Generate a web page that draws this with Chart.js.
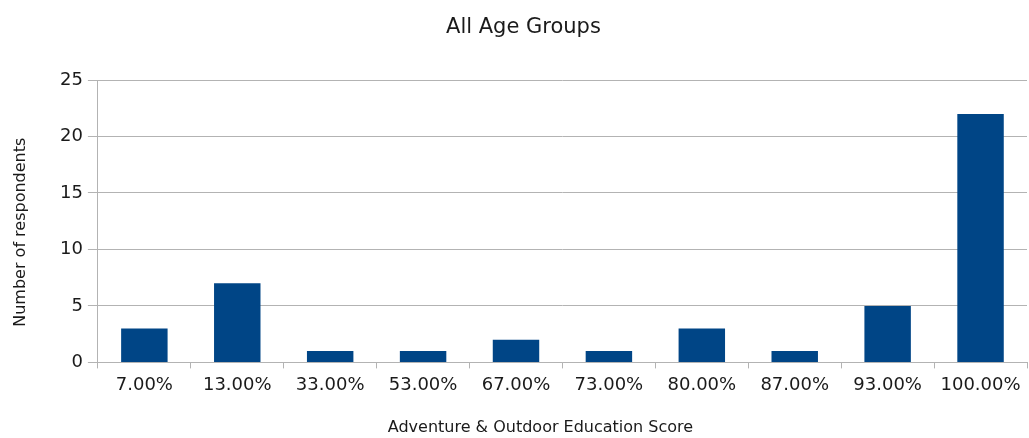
<!DOCTYPE html>
<html>
<head>
<meta charset="utf-8">
<script src="https://cdn.jsdelivr.net/npm/chart.js@4/dist/chart.umd.min.js"></script>
<style>
    html, body { margin: 0; padding: 0; background: #fff; }
    #wrap { width: 1029px; height: 438px; }
</style>
</head>
<body>
<div id="wrap"><canvas id="scoreChart"></canvas></div>
<script>
// Respondents per score bucket
const scores = ['7.00%', '13.00%', '33.00%', '53.00%', '67.00%', '73.00%', '80.00%', '87.00%', '93.00%', '100.00%'];
const respondents = [3, 7, 1, 1, 2, 1, 3, 1, 5, 22];
const yTicks = [0, 5, 10, 15, 20, 25];

const chartTitle = 'All Age Groups';
const xTitle = 'Adventure & Outdoor Education Score';
const yTitle = 'Number of respondents';

const font = 'DejaVu Sans, Verdana, sans-serif';
const textColor = '#1a1a1a';
const lineColor = '#b3b3b3';

// Chart and axis titles sit a little off the plot centre, so they are
// drawn here into the space kept free by the layout padding
const titles = {
    id: 'titles',
    afterDraw(chart) {
        const { ctx, chartArea } = chart;
        const midX = (chartArea.left + chartArea.right) / 2;
        const midY = (chartArea.top + chartArea.bottom) / 2;
        ctx.save();
        ctx.fillStyle = textColor;
        ctx.textAlign = 'center';
        ctx.textBaseline = 'middle';
        ctx.font = '21px ' + font;
        ctx.fillText(chartTitle, midX - 39, 28);
        ctx.font = '16px ' + font;
        ctx.fillText(xTitle, midX - 22, chart.height - 10);
        ctx.translate(21, midY + 11);
        ctx.rotate(-Math.PI / 2);
        ctx.fillText(yTitle, 0, 0);
        ctx.restore();
    }
};

const ctx = document.getElementById('scoreChart').getContext('2d');
new Chart(ctx, {
    type: 'bar',
    data: {
        labels: scores,
        datasets: [{
            label: 'Respondents',
            data: respondents,
            backgroundColor: '#004586',
            barPercentage: 0.5,
            categoryPercentage: 1.0
        }]
    },
    plugins: [titles],
    options: {
        responsive: true,
        maintainAspectRatio: false,
        animation: false,
        layout: {
            padding: { top: 80, right: 2, bottom: 36, left: 55 }
        },
        plugins: {
            legend: { display: false },
            tooltip: { enabled: false },
            title: { display: false }
        },
        scales: {
            x: {
                grid: {
                    drawOnChartArea: false,
                    drawTicks: true,
                    tickLength: 6,
                    color: lineColor,
                    offset: true
                },
                border: { color: lineColor },
                ticks: {
                    color: textColor,
                    font: { family: font, size: 18 },
                    maxRotation: 0,
                    padding: 6
                }
            },
            y: {
                min: 0,
                max: 25,
                afterBuildTicks: axis => {
                    axis.ticks = yTicks.map(v => ({ value: v }));
                },
                grid: {
                    color: lineColor,
                    tickLength: 10
                },
                border: { color: lineColor },
                ticks: {
                    color: textColor,
                    font: { family: font, size: 18 },
                    padding: 5
                }
            }
        }
    }
});
</script>
</body>
</html>
